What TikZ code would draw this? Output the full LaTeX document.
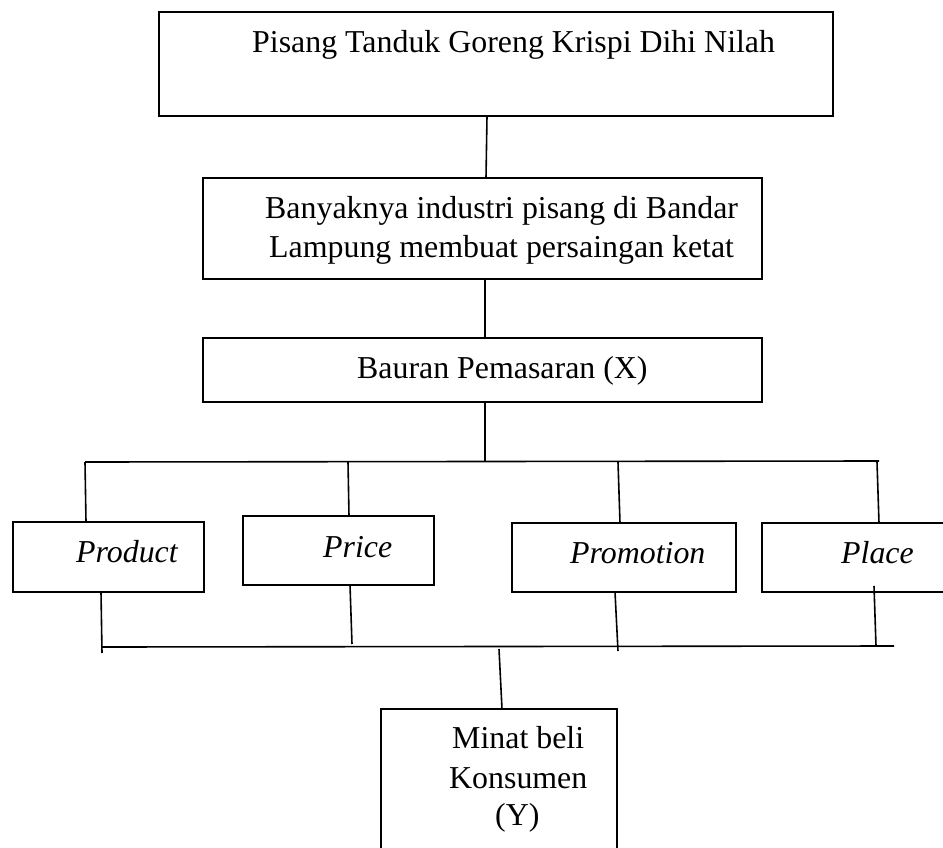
\documentclass[tikz,border=0pt]{standalone}
\usepackage{fontspec}
\setmainfont{Liberation Serif}
\begin{document}
\begin{tikzpicture}[x=1bp,y=-1bp,
  boxst/.style={draw, line width=1.8bp, inner sep=0pt, outer sep=0pt, anchor=north west},
  txt/.style={anchor=base west, inner sep=0pt, font=\fontsize{32}{39}\selectfont},
  itxt/.style={txt, font=\fontsize{32}{39}\selectfont\itshape},
  conn/.style={line width=1.6bp}]
\useasboundingbox (0,0) rectangle (943,848);
% boxes
\node[boxst, minimum width=674bp, minimum height=104bp] (b1) at (159,12) {};
\node[boxst, minimum width=559bp, minimum height=101bp] (b2) at (203,178) {};
\node[boxst, minimum width=559bp, minimum height=64bp] (b3) at (203,338) {};
\node[boxst, minimum width=191bp, minimum height=70bp] (prod) at (13,522) {};
\node[boxst, minimum width=191bp, minimum height=69bp] (pric) at (243,516) {};
\node[boxst, minimum width=224bp, minimum height=69bp] (prom) at (512,523) {};
\node[boxst, minimum width=200bp, minimum height=69bp] (plac) at (762,523) {};
\node[boxst, minimum width=236bp, minimum height=160bp] (mina) at (381,709) {};
% texts
\node[txt] (t1) at (252,52) {Pisang Tanduk Goreng Krispi Dihi Nilah};
\node[txt] (t2a) at (265,218) {Banyaknya industri pisang di Bandar};
\node[txt] (t2b) at (269,257) {Lampung membuat persaingan ketat};
\node[txt] (t3) at (357,378) {Bauran Pemasaran (X)};
\node[itxt] (tprod) at (76,562) {Product};
\node[itxt] (tpric) at (323,557) {Price};
\node[itxt] (tprom) at (570,563) {Promotion};
\node[itxt] (tplac) at (841,563) {Place};
\node[txt] (tm1) at (452,748) {Minat beli};
\node[txt] (tm2) at (449,788) {Konsumen};
\node[txt] (tm3) at (495,825) {(Y)};
% coordinates
\coordinate (c1a) at (487,116); \coordinate (c1b) at (486,178);
\coordinate (c2a) at (485,279); \coordinate (c2b) at (485,338);
\coordinate (c3a) at (485,402); \coordinate (c3b) at (485,461);
\coordinate (busL) at (85,462); \coordinate (busR) at (879,461);
\coordinate (pdT) at (86,522); \coordinate (prT0) at (348,462); \coordinate (prT) at (349,516);
\coordinate (pmT0) at (618,462); \coordinate (pmT) at (620,523);
\coordinate (plT0) at (877,462); \coordinate (plT) at (879,523);
\coordinate (pdB) at (101,592); \coordinate (pdB1) at (102,653);
\coordinate (prB) at (350,585); \coordinate (prB1) at (352,644);
\coordinate (pmB) at (615,592); \coordinate (pmB1) at (618,651);
\coordinate (plB) at (874,586); \coordinate (plB1) at (876,646);
\coordinate (bbL) at (101,647); \coordinate (bbR) at (894,646);
\coordinate (mT0) at (499,649); \coordinate (mT) at (502,709);
% connectors
\draw[conn] (c1a) -- (c1b);
\draw[conn] (c2a) -- (c2b);
\draw[conn] (c3a) -- (c3b);
\draw[conn] (busL) -- (busR);
\draw[conn] (busL) -- (pdT);
\draw[conn] (prT0) -- (prT);
\draw[conn] (pmT0) -- (pmT);
\draw[conn] (plT0) -- (plT);
\draw[conn] (pdB) -- (pdB1);
\draw[conn] (prB) -- (prB1);
\draw[conn] (pmB) -- (pmB1);
\draw[conn] (plB) -- (plB1);
\draw[conn] (bbL) -- (bbR);
\draw[conn] (mT0) -- (mT);
\end{tikzpicture}
\end{document}
